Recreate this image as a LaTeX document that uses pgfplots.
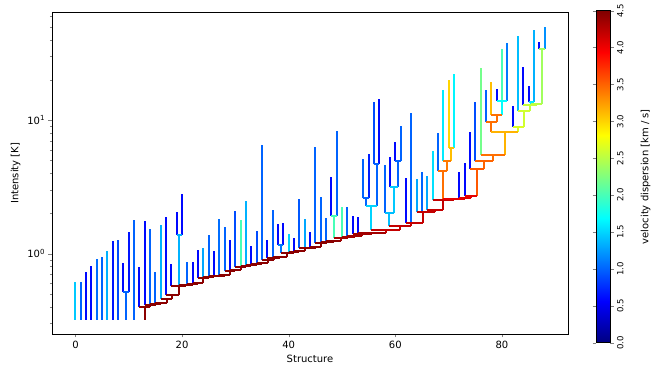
\documentclass[border=0pt]{standalone}
\usepackage{fontspec}
\setmainfont{DejaVu Sans}
\usepackage{pgfplots}
\pgfplotsset{compat=1.18}
\pgfplotsset{dendro/.style={mesh, point meta=explicit, unbounded coords=jump, line width=2pt}}
\begin{document}
\begin{tikzpicture}
\path[use as bounding box] (0,0) rectangle (651pt,377pt);
\begin{axis}[
    at={(52pt,43pt)}, anchor=south west,
    scale only axis, width=516pt, height=321.5pt,
    xmin=-4.4, xmax=92.4,
    ymode=log, ymin=0.25, ymax=64,
    xtick={0,20,40,60,80},
    ytick={1,10},
    yticklabels={10\textsuperscript{0},10\textsuperscript{1}},
    minor ytick={0.3,0.4,0.5,0.6,0.7,0.8,0.9,2,3,4,5,6,7,8,9,20,30,40,50,60},
    xlabel={Structure},
    ylabel={Intensity [K]},
    tick align=outside, xtick pos=left, ytick pos=left,
    major tick length=3.5pt, minor tick length=2pt,
    axis line style={line width=0.8pt},
    /pgf/number format/assume math mode=true,
    colormap/jet, point meta min=0, point meta max=4.5,
    colorbar,
    colorbar style={
        scale only axis, width=14pt, height=332pt,
        at={(parent axis.north east)}, anchor=north west,
        xshift=19.5pt, yshift=1.8pt,
        ytick={0,0.5,...,4.5},
        tick align=outside, major tick length=3.5pt,
        yticklabel style={rotate=90, anchor=north, font=\fontsize{8.5}{10}\selectfont},
        /pgf/number format/assume math mode=true,
        /pgf/number format/fixed, /pgf/number format/fixed zerofill,
        /pgf/number format/precision=1,
        ylabel={velocity dispersion [km / s]},
        ylabel style={at={(axis description cs:3.54,0.5)}, anchor=center},
    },
]
% leaves: (x, base) (x, peak) [velocity dispersion]
\addplot[dendro] coordinates {
(0,0.32)[1.45] (0,0.61)[1.45] (nan,nan)[0]
(1,0.32)[1.0] (1,0.61)[1.0] (nan,nan)[0]
(2,0.32)[0.6] (2,0.73)[0.6] (nan,nan)[0]
(3,0.32)[0.6] (3,0.81)[0.6] (nan,nan)[0]
(4,0.32)[1.05] (4,0.91)[1.05] (nan,nan)[0]
(5,0.32)[1.0] (5,0.95)[1.0] (nan,nan)[0]
(6,0.32)[1.35] (6,1.05)[1.35] (nan,nan)[0]
(7,0.32)[0.65] (7,1.25)[0.65] (nan,nan)[0]
(8,0.32)[0.9] (8,1.27)[0.9] (nan,nan)[0]
(9,0.52)[0.6] (9,0.85)[0.6] (nan,nan)[0]
(10,0.52)[0.65] (10,1.44)[0.65] (nan,nan)[0]
(11,0.32)[1.0] (11,1.79)[1.0] (nan,nan)[0]
(12,0.40)[0.6] (12,0.80)[0.6] (nan,nan)[0]
(13,0.41)[0.6] (13,1.76)[0.6] (nan,nan)[0]
(14,0.42)[1.0] (14,1.53)[1.0] (nan,nan)[0]
(15,0.43)[1.0] (15,0.73)[1.0] (nan,nan)[0]
(16,0.46)[1.35] (16,1.63)[1.35] (nan,nan)[0]
(17,0.49)[0.6] (17,1.88)[0.6] (nan,nan)[0]
(18,0.57)[0.6] (18,0.84)[0.6] (nan,nan)[0]
(19,1.38)[0.6] (19,2.06)[0.6] (nan,nan)[0]
(20,1.38)[0.6] (20,2.80)[0.6] (nan,nan)[0]
(21,0.59)[1.0] (21,0.87)[1.0] (nan,nan)[0]
(22,0.60)[0.6] (22,0.87)[0.6] (nan,nan)[0]
(23,0.66)[0.6] (23,1.07)[0.6] (nan,nan)[0]
(24,0.67)[1.3] (24,1.10)[1.3] (nan,nan)[0]
(25,0.68)[1.0] (25,1.39)[1.0] (nan,nan)[0]
(26,0.685)[0.6] (26,1.04)[0.6] (nan,nan)[0]
(27,0.69)[1.05] (27,1.82)[1.05] (nan,nan)[0]
(28,0.74)[1.0] (28,1.57)[1.0] (nan,nan)[0]
(29,0.75)[0.6] (29,1.26)[0.6] (nan,nan)[0]
(30,0.80)[0.9] (30,2.09)[0.9] (nan,nan)[0]
(31,0.81)[2.0] (31,1.79)[2.0] (nan,nan)[0]
(32,0.82)[1.35] (32,2.47)[1.35] (nan,nan)[0]
(33,0.83)[0.6] (33,1.15)[0.6] (nan,nan)[0]
(34,0.85)[0.9] (34,1.47)[0.9] (nan,nan)[0]
(35,0.90)[1.0] (35,6.5)[1.0] (nan,nan)[0]
(36,0.93)[0.6] (36,1.27)[0.6] (nan,nan)[0]
(37,0.95)[1.0] (37,2.13)[1.0] (nan,nan)[0]
(38,1.17)[0.6] (38,1.67)[0.6] (nan,nan)[0]
(39,1.17)[0.6] (39,1.69)[0.6] (nan,nan)[0]
(40,1.02)[1.5] (40,1.40)[1.5] (nan,nan)[0]
(41,1.05)[0.6] (41,1.32)[0.6] (nan,nan)[0]
(42,1.10)[0.95] (42,2.57)[0.95] (nan,nan)[0]
(43,1.11)[1.3] (43,1.82)[1.3] (nan,nan)[0]
(44,1.13)[0.6] (44,1.45)[0.6] (nan,nan)[0]
(45,1.20)[1.0] (45,6.3)[1.0] (nan,nan)[0]
(46,1.22)[1.0] (46,2.65)[1.0] (nan,nan)[0]
(47,1.24)[1.0] (47,1.85)[1.0] (nan,nan)[0]
(48,1.93)[0.6] (48,3.77)[0.6] (nan,nan)[0]
(49,1.93)[1.0] (49,8.3)[1.0] (nan,nan)[0]
(50,1.33)[2.0] (50,2.23)[2.0] (nan,nan)[0]
(51,1.35)[1.0] (51,2.24)[1.0] (nan,nan)[0]
(52,1.41)[0.6] (52,1.92)[0.6] (nan,nan)[0]
(53,1.43)[0.6] (53,1.87)[0.6] (nan,nan)[0]
(54,2.63)[1.0] (54,5.1)[1.0] (nan,nan)[0]
(55,2.63)[0.7] (55,5.6)[0.7] (nan,nan)[0]
(56,4.67)[0.9] (56,13.7)[0.9] (nan,nan)[0]
(57,4.67)[0.6] (57,14.3)[0.6] (nan,nan)[0]
(58,2.03)[1.0] (58,4.6)[1.0] (nan,nan)[0]
(59,3.14)[0.6] (59,5.3)[0.6] (nan,nan)[0]
(60,4.94)[0.6] (60,6.8)[0.6] (nan,nan)[0]
(61,4.94)[1.0] (61,9.0)[1.0] (nan,nan)[0]
(62,1.69)[0.6] (62,3.67)[0.6] (nan,nan)[0]
(63,1.71)[1.0] (63,11.3)[1.0] (nan,nan)[0]
(64,2.05)[1.3] (64,3.6)[1.3] (nan,nan)[0]
(65,2.06)[1.0] (65,4.1)[1.0] (nan,nan)[0]
(66,2.13)[1.3] (66,3.8)[1.3] (nan,nan)[0]
(67,2.50)[1.55] (67,5.9)[1.55] (nan,nan)[0]
(68,4.19)[1.0] (68,7.95)[1.0] (nan,nan)[0]
(69,4.97)[1.6] (69,16.9)[1.6] (nan,nan)[0]
(70,6.2)[3.0] (70,19.9)[3.0] (nan,nan)[0]
(71,6.2)[1.65] (71,22.0)[1.65] (nan,nan)[0]
(72,2.60)[0.6] (72,4.1)[0.6] (nan,nan)[0]
(73,2.72)[0.6] (73,4.75)[0.6] (nan,nan)[0]
(74,4.3)[0.6] (74,8.1)[0.6] (nan,nan)[0]
(75,4.9)[0.9] (75,13.6)[0.9] (nan,nan)[0]
(76,5.5)[2.2] (76,24.7)[2.2] (nan,nan)[0]
(77,9.6)[1.0] (77,16.7)[1.0] (nan,nan)[0]
(78,11.0)[3.1] (78,19.4)[3.1] (nan,nan)[0]
(79,14.0)[0.6] (79,17.0)[0.6] (nan,nan)[0]
(80,14.0)[2.0] (80,33.9)[2.0] (nan,nan)[0]
(81,14.0)[1.1] (81,38.0)[1.1] (nan,nan)[0]
(82,8.9)[0.6] (82,12.7)[0.6] (nan,nan)[0]
(83,11.7)[1.4] (83,43)[1.4] (nan,nan)[0]
(84,12.9)[0.6] (84,25.0)[0.6] (nan,nan)[0]
(85,13.6)[0.6] (85,17.9)[0.6] (nan,nan)[0]
(86,13.6)[1.35] (86,47)[1.35] (nan,nan)[0]
(87,33.9)[0.6] (87,38.4)[0.6] (nan,nan)[0]
(88,33.9)[1.2] (88,49.8)[1.2]
};
% branches: horizontal (left, level) (right, level), vertical (pos, parent level) (pos, level)
\addplot[dendro] coordinates {
(9,0.52)[1.0] (10,0.52)[1.0] (nan,nan)[0] (9.5,0.32)[1.0] (9.5,0.52)[1.0] (nan,nan)[0]
(19,1.38)[1.35] (20,1.38)[1.35] (nan,nan)[0] (19.5,0.58)[1.35] (19.5,1.38)[1.35] (nan,nan)[0]
(38,1.17)[1.1] (39,1.17)[1.1] (nan,nan)[0] (38.5,1.01)[1.1] (38.5,1.17)[1.1] (nan,nan)[0]
(48,1.93)[2.0] (49,1.93)[2.0] (nan,nan)[0] (48.5,1.31)[2.0] (48.5,1.93)[2.0] (nan,nan)[0]
(54,2.63)[1.0] (55,2.63)[1.0] (nan,nan)[0] (54.5,2.29)[1.0] (54.5,2.63)[1.0] (nan,nan)[0]
(56,4.67)[1.0] (57,4.67)[1.0] (nan,nan)[0] (56.5,2.29)[1.0] (56.5,4.67)[1.0] (nan,nan)[0]
(54.5,2.29)[1.5] (56.5,2.29)[1.5] (nan,nan)[0] (55.5,1.51)[1.5] (55.5,2.29)[1.5] (nan,nan)[0]
(60,4.94)[1.0] (61,4.94)[1.0] (nan,nan)[0] (60.5,3.14)[1.0] (60.5,4.94)[1.0] (nan,nan)[0]
(59,3.14)[1.45] (60.5,3.14)[1.45] (nan,nan)[0] (59.75,2.03)[1.45] (59.75,3.14)[1.45] (nan,nan)[0]
(58,2.03)[1.4] (59.75,2.03)[1.4] (nan,nan)[0] (58.875,1.60)[1.4] (58.875,2.03)[1.4] (nan,nan)[0]
(70,6.2)[3.1] (71,6.2)[3.1] (nan,nan)[0] (70.5,4.97)[3.1] (70.5,6.2)[3.1] (nan,nan)[0]
(69,4.97)[3.4] (70.5,4.97)[3.4] (nan,nan)[0] (69.75,4.19)[3.4] (69.75,4.97)[3.4] (nan,nan)[0]
(68,4.19)[3.45] (69.75,4.19)[3.45] (nan,nan)[0] (68.875,2.56)[3.45] (68.875,4.19)[3.45] (nan,nan)[0]
(79,14.0)[1.7] (81,14.0)[1.7] (nan,nan)[0] (80,11.0)[1.7] (80,14.0)[1.7] (nan,nan)[0]
(78,11.0)[3.45] (80,11.0)[3.45] (nan,nan)[0] (79,9.6)[3.45] (79,11.0)[3.45] (nan,nan)[0]
(77,9.6)[3.45] (79,9.6)[3.45] (nan,nan)[0] (78,8.2)[3.45] (78,9.6)[3.45] (nan,nan)[0]
(87,33.9)[2.4] (88,33.9)[2.4] (nan,nan)[0] (87.5,13.2)[2.4] (87.5,33.9)[2.4] (nan,nan)[0]
(85,13.6)[1.6] (86,13.6)[1.6] (nan,nan)[0] (85.5,13.2)[1.6] (85.5,13.6)[1.6] (nan,nan)[0]
(85.5,13.2)[2.5] (87.5,13.2)[2.5] (nan,nan)[0] (86.5,12.9)[2.5] (86.5,13.2)[2.5] (nan,nan)[0]
(84,12.9)[2.55] (86.5,12.9)[2.55] (nan,nan)[0] (85.25,11.7)[2.55] (85.25,12.9)[2.55] (nan,nan)[0]
(83,11.7)[2.6] (85.25,11.7)[2.6] (nan,nan)[0] (84.125,8.9)[2.6] (84.125,11.7)[2.6] (nan,nan)[0]
(82,8.9)[2.65] (84.125,8.9)[2.65] (nan,nan)[0] (83.06,8.2)[2.65] (83.06,8.9)[2.65] (nan,nan)[0]
(78,8.2)[3.15] (83.06,8.2)[3.15] (nan,nan)[0] (80.53,5.5)[3.15] (80.53,8.2)[3.15] (nan,nan)[0]
(76,5.5)[3.45] (80.53,5.5)[3.45] (nan,nan)[0] (78.27,4.9)[3.45] (78.27,5.5)[3.45] (nan,nan)[0]
(75,4.9)[3.5] (78.27,4.9)[3.5] (nan,nan)[0] (76.63,4.3)[3.5] (76.63,4.9)[3.5] (nan,nan)[0]
(74,4.3)[3.55] (76.63,4.3)[3.55] (nan,nan)[0] (75.32,2.72)[3.55] (75.32,4.3)[3.55]
};
% main trunk
\addplot[dendro] coordinates {
(12,0.40)[4.45] (14.01,0.40)[4.45] (nan,nan)[0] (13,0.32)[4.45] (13,0.40)[4.45] (nan,nan)[0]
(13,0.41)[4.45] (15.02,0.41)[4.45] (nan,nan)[0] (14.01,0.40)[4.45] (14.01,0.41)[4.45] (nan,nan)[0]
(14,0.42)[4.45] (16.05,0.42)[4.45] (nan,nan)[0] (15.02,0.41)[4.45] (15.02,0.42)[4.45] (nan,nan)[0]
(15,0.43)[4.45] (17.1,0.43)[4.45] (nan,nan)[0] (16.05,0.42)[4.45] (16.05,0.43)[4.45] (nan,nan)[0]
(16,0.46)[4.45] (18.19,0.46)[4.45] (nan,nan)[0] (17.1,0.43)[4.45] (17.1,0.46)[4.45] (nan,nan)[0]
(17,0.49)[4.45] (19.38,0.49)[4.45] (nan,nan)[0] (18.19,0.46)[4.45] (18.19,0.49)[4.45] (nan,nan)[0]
(18,0.57)[4.45] (20.75,0.57)[4.45] (nan,nan)[0] (19.38,0.49)[4.45] (19.38,0.57)[4.45] (nan,nan)[0]
(19.5,0.58)[4.45] (22,0.58)[4.45] (nan,nan)[0] (20.75,0.57)[4.45] (20.75,0.58)[4.45] (nan,nan)[0]
(21,0.59)[4.45] (23,0.59)[4.45] (nan,nan)[0] (22,0.58)[4.45] (22,0.59)[4.45] (nan,nan)[0]
(22,0.60)[4.45] (24,0.60)[4.45] (nan,nan)[0] (23,0.59)[4.45] (23,0.60)[4.45] (nan,nan)[0]
(23,0.66)[4.45] (25,0.66)[4.45] (nan,nan)[0] (24,0.60)[4.45] (24,0.66)[4.45] (nan,nan)[0]
(24,0.67)[4.45] (26,0.67)[4.45] (nan,nan)[0] (25,0.66)[4.45] (25,0.67)[4.45] (nan,nan)[0]
(25,0.68)[4.45] (27,0.68)[4.45] (nan,nan)[0] (26,0.67)[4.45] (26,0.68)[4.45] (nan,nan)[0]
(26,0.685)[4.45] (28,0.685)[4.45] (nan,nan)[0] (27,0.68)[4.45] (27,0.685)[4.45] (nan,nan)[0]
(27,0.69)[4.45] (29,0.69)[4.45] (nan,nan)[0] (28,0.685)[4.45] (28,0.69)[4.45] (nan,nan)[0]
(28,0.74)[4.45] (30,0.74)[4.45] (nan,nan)[0] (29,0.69)[4.45] (29,0.74)[4.45] (nan,nan)[0]
(29,0.75)[4.45] (31,0.75)[4.45] (nan,nan)[0] (30,0.74)[4.45] (30,0.75)[4.45] (nan,nan)[0]
(30,0.80)[4.45] (32,0.80)[4.45] (nan,nan)[0] (31,0.75)[4.45] (31,0.80)[4.45] (nan,nan)[0]
(31,0.81)[4.45] (33.01,0.81)[4.45] (nan,nan)[0] (32,0.80)[4.45] (32,0.81)[4.45] (nan,nan)[0]
(32,0.82)[4.45] (34.02,0.82)[4.45] (nan,nan)[0] (33.01,0.81)[4.45] (33.01,0.82)[4.45] (nan,nan)[0]
(33,0.83)[4.45] (35.05,0.83)[4.45] (nan,nan)[0] (34.02,0.82)[4.45] (34.02,0.83)[4.45] (nan,nan)[0]
(34,0.85)[4.45] (36.1,0.85)[4.45] (nan,nan)[0] (35.05,0.83)[4.45] (35.05,0.85)[4.45] (nan,nan)[0]
(35,0.90)[4.45] (37.19,0.90)[4.45] (nan,nan)[0] (36.1,0.85)[4.45] (36.1,0.90)[4.45] (nan,nan)[0]
(36,0.93)[4.45] (38.38,0.93)[4.45] (nan,nan)[0] (37.19,0.90)[4.45] (37.19,0.93)[4.45] (nan,nan)[0]
(37,0.95)[4.45] (39.75,0.95)[4.45] (nan,nan)[0] (38.38,0.93)[4.45] (38.38,0.95)[4.45] (nan,nan)[0]
(38.5,1.01)[4.45] (41,1.01)[4.45] (nan,nan)[0] (39.75,0.95)[4.45] (39.75,1.01)[4.45] (nan,nan)[0]
(40,1.02)[4.45] (42,1.02)[4.45] (nan,nan)[0] (41,1.01)[4.45] (41,1.02)[4.45] (nan,nan)[0]
(41,1.05)[4.45] (43.01,1.05)[4.45] (nan,nan)[0] (42,1.02)[4.45] (42,1.05)[4.45] (nan,nan)[0]
(42,1.10)[4.45] (44.03,1.10)[4.45] (nan,nan)[0] (43.01,1.05)[4.45] (43.01,1.10)[4.45] (nan,nan)[0]
(43,1.11)[4.45] (45.05,1.11)[4.45] (nan,nan)[0] (44.03,1.10)[4.45] (44.03,1.11)[4.45] (nan,nan)[0]
(44,1.13)[4.45] (46.1,1.13)[4.45] (nan,nan)[0] (45.05,1.11)[4.45] (45.05,1.13)[4.45] (nan,nan)[0]
(45,1.20)[4.45] (47.2,1.20)[4.45] (nan,nan)[0] (46.1,1.13)[4.45] (46.1,1.20)[4.45] (nan,nan)[0]
(46,1.22)[4.45] (48.43,1.22)[4.45] (nan,nan)[0] (47.2,1.20)[4.45] (47.2,1.22)[4.45] (nan,nan)[0]
(47,1.24)[4.45] (49.85,1.24)[4.45] (nan,nan)[0] (48.43,1.22)[4.45] (48.43,1.24)[4.45] (nan,nan)[0]
(48.5,1.31)[4.35] (51.2,1.31)[4.35] (nan,nan)[0] (49.85,1.24)[4.35] (49.85,1.31)[4.35] (nan,nan)[0]
(50,1.33)[4.35] (52.4,1.33)[4.35] (nan,nan)[0] (51.2,1.31)[4.35] (51.2,1.33)[4.35] (nan,nan)[0]
(51,1.35)[4.35] (53.8,1.35)[4.35] (nan,nan)[0] (52.4,1.33)[4.35] (52.4,1.35)[4.35] (nan,nan)[0]
(52,1.41)[4.35] (55.6,1.41)[4.35] (nan,nan)[0] (53.8,1.35)[4.35] (53.8,1.41)[4.35] (nan,nan)[0]
(53,1.43)[4.35] (58.23,1.43)[4.35] (nan,nan)[0] (55.6,1.41)[4.35] (55.6,1.43)[4.35] (nan,nan)[0]
(55.5,1.51)[4.2] (60.95,1.51)[4.2] (nan,nan)[0] (58.23,1.43)[4.2] (58.23,1.51)[4.2] (nan,nan)[0]
(58.875,1.60)[4.2] (63.03,1.60)[4.2] (nan,nan)[0] (60.95,1.51)[4.2] (60.95,1.60)[4.2] (nan,nan)[0]
(62,1.69)[4.2] (64.06,1.69)[4.2] (nan,nan)[0] (63.03,1.60)[4.2] (63.03,1.69)[4.2] (nan,nan)[0]
(63,1.71)[4.2] (65.12,1.71)[4.2] (nan,nan)[0] (64.06,1.69)[4.2] (64.06,1.71)[4.2] (nan,nan)[0]
(64,2.05)[4.2] (66.25,2.05)[4.2] (nan,nan)[0] (65.12,1.71)[4.2] (65.12,2.05)[4.2] (nan,nan)[0]
(65,2.06)[4.2] (67.49,2.06)[4.2] (nan,nan)[0] (66.25,2.05)[4.2] (66.25,2.06)[4.2] (nan,nan)[0]
(66,2.13)[4.2] (68.99,2.13)[4.2] (nan,nan)[0] (67.49,2.06)[4.2] (67.49,2.13)[4.2] (nan,nan)[0]
(67,2.50)[4.2] (70.975,2.50)[4.2] (nan,nan)[0] (68.99,2.13)[4.2] (68.99,2.50)[4.2] (nan,nan)[0]
(68.875,2.56)[4.05] (73.075,2.56)[4.05] (nan,nan)[0] (70.975,2.50)[4.05] (70.975,2.56)[4.05] (nan,nan)[0]
(72,2.60)[4.05] (74.15,2.60)[4.05] (nan,nan)[0] (73.075,2.56)[4.05] (73.075,2.60)[4.05] (nan,nan)[0]
(73,2.72)[4.05] (75.32,2.72)[4.05] (nan,nan)[0] (74.15,2.60)[4.05] (74.15,2.72)[4.05]
};
\end{axis}
\end{tikzpicture}
\end{document}
